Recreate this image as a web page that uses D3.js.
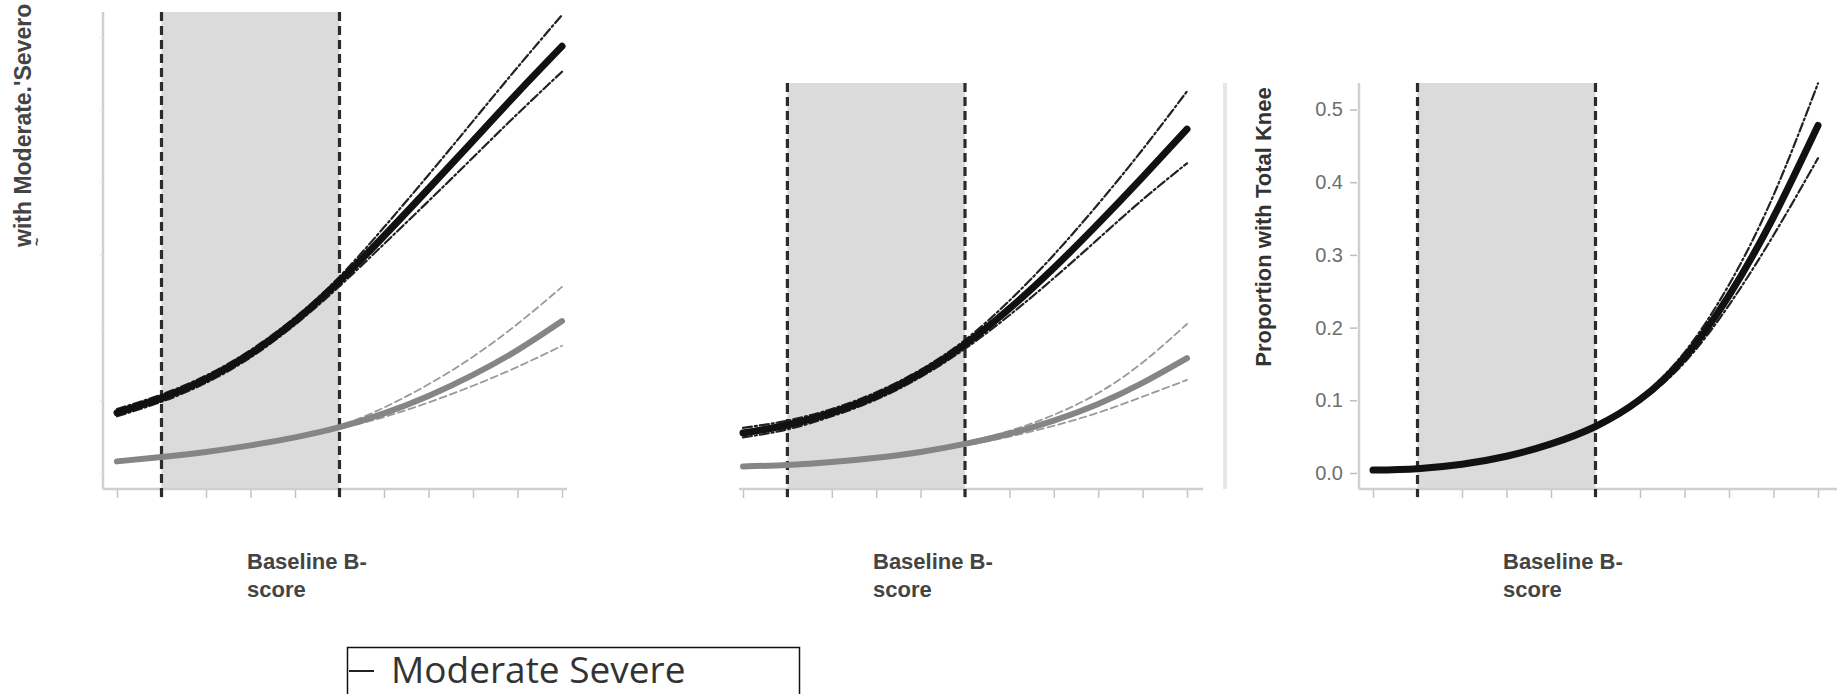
<!DOCTYPE html>
<html>
<head>
<meta charset="utf-8">
<script src="https://cdn.jsdelivr.net/npm/d3@7"></script>
<style>
  body { margin: 0; background: #fff; }
  svg { display: block; }
</style>
</head>
<body>
<div id="chart"></div>
<script>

var W = 1837, H = 694;

// B-score ticks (unlabeled in the figure) and the shaded reference band
var scoreTicks = [-2, -1.5, -1, -0.5, 0, 0.5, 1, 1.5, 2, 2.5, 3];
var normalBand = [-1.5, 0.5];
var propTicks = [0, 0.1, 0.2, 0.3, 0.4, 0.5];
var propTicksFaint = [0, 0.1, 0.2, 0.3, 0.4, 0.5, 0.6];

// panel 1
var p1Dark      = [0.083, 0.103, 0.129, 0.164, 0.209, 0.264, 0.326, 0.391, 0.457, 0.523, 0.587];
var p1DarkHi    = [0.088, 0.108, 0.134, 0.169, 0.214, 0.270, 0.338, 0.410, 0.484, 0.558, 0.630];
var p1DarkLo    = [0.078, 0.098, 0.124, 0.159, 0.204, 0.257, 0.315, 0.374, 0.434, 0.494, 0.552];
var p1Grey      = [0.016, 0.022, 0.029, 0.038, 0.049, 0.063, 0.082, 0.106, 0.135, 0.169, 0.209];
var p1GreyHi    = [0.017, 0.023, 0.030, 0.039, 0.050, 0.065, 0.090, 0.122, 0.160, 0.205, 0.256];
var p1GreyLo    = [0.015, 0.021, 0.028, 0.037, 0.048, 0.061, 0.077, 0.097, 0.120, 0.146, 0.175];

// panel 2
var p2Dark      = [0.055, 0.066, 0.083, 0.106, 0.137, 0.177, 0.226, 0.282, 0.343, 0.407, 0.473];
var p2DarkHi    = [0.062, 0.072, 0.088, 0.111, 0.142, 0.183, 0.237, 0.300, 0.370, 0.445, 0.525];
var p2DarkLo    = [0.049, 0.060, 0.078, 0.101, 0.132, 0.171, 0.217, 0.268, 0.322, 0.376, 0.426];
var p2Grey      = [0.009, 0.011, 0.015, 0.021, 0.029, 0.040, 0.054, 0.072, 0.095, 0.124, 0.158];
var p2GreyHi    = [0.010, 0.012, 0.016, 0.022, 0.030, 0.042, 0.058, 0.080, 0.110, 0.152, 0.205];
var p2GreyLo    = [0.008, 0.010, 0.014, 0.020, 0.028, 0.038, 0.050, 0.065, 0.083, 0.105, 0.128];

// panel 3 - total knee
var p3Dark      = [0.004, 0.006, 0.012, 0.023, 0.040, 0.064, 0.101, 0.159, 0.244, 0.352, 0.478];
var p3DarkHi    = [0.004, 0.006, 0.012, 0.023, 0.040, 0.065, 0.104, 0.166, 0.259, 0.382, 0.536];
var p3DarkLo    = [0.004, 0.006, 0.012, 0.023, 0.040, 0.063, 0.098, 0.152, 0.231, 0.327, 0.433];

var xLabel = ["Baseline B-", "score"];
var legendLabel = "Moderate Severe";

var font = "'Liberation Sans', Arial, sans-serif";

var svg = d3.select("#chart").append("svg")
    .attr("width", W)
    .attr("height", H);

// common y scale, all three panels share the same pixel mapping
var y = d3.scaleLinear().domain([0, 0.5]).range([473, 109.5]);
var axisY = 489;

var panels = [
    { left: 103, right: 567, top: 12, first: 117, last: 562, yAxis: "faint",
      lines: [[p1GreyHi, "greyci"], [p1GreyLo, "greyci"], [p1Grey, "grey"],
              [p1DarkHi, "darkci"], [p1DarkLo, "darkci"], [p1Dark, "dark"]] },
    { left: 739, right: 1203, top: 83, first: 743, last: 1187, yAxis: "none",
      lines: [[p2GreyHi, "greyci"], [p2GreyLo, "greyci"], [p2Grey, "grey"],
              [p2DarkHi, "darkci"], [p2DarkLo, "darkci"], [p2Dark, "dark"]] },
    { left: 1359, right: 1837, top: 83, first: 1373, last: 1818, yAxis: "labels",
      lines: [[p3DarkHi, "darkci"], [p3DarkLo, "darkci"], [p3Dark, "dark"]] }
];

var styles = {
    dark:   { stroke: "#111", width: 7, dash: null },
    darkci: { stroke: "#222", width: 2.2, dash: "9,3,2,3" },
    grey:   { stroke: "#858585", width: 6, dash: null },
    greyci: { stroke: "#9a9a9a", width: 1.8, dash: "7,4" }
};

panels.forEach(function(p) {
    var x = d3.scaleLinear().domain([scoreTicks[0], scoreTicks[scoreTicks.length - 1]])
        .range([p.first, p.last]);
    var g = svg.append("g");

    // shaded band
    g.append("rect")
        .attr("x", x(normalBand[0]))
        .attr("y", p.top)
        .attr("width", x(normalBand[1]) - x(normalBand[0]))
        .attr("height", axisY - p.top)
        .attr("fill", "#dbdbdb");

    // x axis
    var xa = g.append("g")
        .attr("transform", "translate(0," + axisY + ")")
        .call(d3.axisBottom(x).tickValues(scoreTicks).tickSize(9).tickFormat(""));
    xa.select(".domain").remove();
    xa.selectAll(".tick line").attr("stroke", "#c4c4c4").attr("stroke-width", 1.5);
    g.append("line")
        .attr("x1", p.left).attr("x2", p.right)
        .attr("y1", axisY).attr("y2", axisY)
        .attr("stroke", "#cfcfcf").attr("stroke-width", 2.5);

    if (p.yAxis !== "none") {
        g.append("line")
            .attr("x1", p.left).attr("x2", p.left)
            .attr("y1", p.top).attr("y2", axisY)
            .attr("stroke", "#d0d0d0").attr("stroke-width", 2.5);
    }

    if (p.yAxis === "faint") {
        var fa = g.append("g")
            .attr("transform", "translate(" + p.left + ",0)")
            .call(d3.axisLeft(y).tickValues(propTicksFaint).tickSize(3).tickFormat(""));
        fa.select(".domain").remove();
        fa.selectAll(".tick line").attr("stroke", "#e2e2e2");
    }

    if (p.yAxis === "labels") {
        var la = g.append("g")
            .attr("transform", "translate(" + (p.left - 2) + ",0)")
            .call(d3.axisLeft(y).tickValues(propTicks).tickSize(7).tickPadding(7)
                .tickFormat(d3.format(".1f")));
        la.select(".domain").remove();
        la.selectAll(".tick line").attr("stroke", "#bdbdbd").attr("stroke-width", 1.5);
        la.selectAll("text")
            .attr("fill", "#6e6e6e")
            .style("font-family", font)
            .style("font-size", "20px");
    }

    // dashed band edges
    g.selectAll(".edge")
        .data(normalBand)
        .enter().append("line")
        .attr("x1", function(d) { return x(d); })
        .attr("x2", function(d) { return x(d); })
        .attr("y1", p.top)
        .attr("y2", axisY + 8)
        .attr("stroke", "#2b2b2b")
        .attr("stroke-width", 3.2)
        .attr("stroke-dasharray", "9,5");

    var line = d3.line()
        .x(function(d, i) { return x(scoreTicks[i]); })
        .y(function(d) { return y(d); })
        .curve(d3.curveNatural);

    p.lines.forEach(function(l) {
        var s = styles[l[1]];
        g.append("path")
            .datum(l[0])
            .attr("d", line)
            .attr("fill", "none")
            .attr("stroke", s.stroke)
            .attr("stroke-width", s.width)
            .attr("stroke-linecap", "round")
            .attr("stroke-dasharray", s.dash);
    });

    // x label on two lines
    var t = g.append("text")
        .attr("x", p.first + 130)
        .attr("y", 569)
        .attr("fill", "#444")
        .style("font-family", font)
        .style("font-weight", "bold")
        .style("font-size", "22px");
    t.selectAll("tspan")
        .data(xLabel)
        .enter().append("tspan")
        .attr("x", p.first + 130)
        .attr("dy", function(d, i) { return i ? 28 : 0; })
        .text(function(d) { return d; });
});

// extra frame line to the right of panel 2
svg.append("line")
    .attr("x1", 1225).attr("x2", 1225).attr("y1", 83).attr("y2", axisY)
    .attr("stroke", "#e6e6e6").attr("stroke-width", 4);

// y axis titles
svg.append("text")
    .attr("transform", "translate(31,247)rotate(-90)")
    .attr("fill", "#444")
    .style("font-family", font)
    .style("font-weight", "bold")
    .style("font-size", "23px")
    .text("with Moderate.'Severo");

svg.append("text")
    .attr("transform", "translate(42,246)rotate(-90)")
    .attr("fill", "#444")
    .style("font-family", font)
    .style("font-weight", "bold")
    .style("font-size", "14px")
    .text("~");

svg.append("text")
    .attr("transform", "translate(1271,227)rotate(-90)")
    .attr("text-anchor", "middle")
    .attr("fill", "#333")
    .style("font-family", font)
    .style("font-weight", "bold")
    .style("font-size", "22px")
    .text("Proportion with Total Knee");

// legend box (bottom edge runs off the picture)
var legend = svg.append("g");
legend.append("rect")
    .attr("x", 347.5).attr("y", 647.5)
    .attr("width", 452).attr("height", 60)
    .attr("fill", "#fff")
    .attr("stroke", "#111")
    .attr("stroke-width", 1.5);
legend.append("line")
    .attr("x1", 349).attr("x2", 374)
    .attr("y1", 671).attr("y2", 671)
    .attr("stroke", "#222")
    .attr("stroke-width", 2);
legend.append("text")
    .attr("x", 391)
    .attr("y", 683)
    .attr("fill", "#333")
    .style("font-family", "'Open Sans', sans-serif")
    .style("font-size", "37px")
    .text(legendLabel);

</script>
</body>
</html>
